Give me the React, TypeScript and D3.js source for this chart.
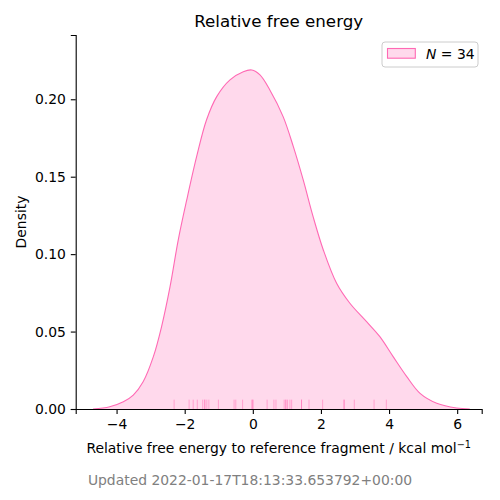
import { useEffect, useRef } from "react";
import * as d3 from "d3";

// relative free energies (kcal/mol)
const energies = [
  -2.31, -1.87, -1.75, -1.63, -1.47, -1.41, -1.35, -1.29, -1.01, -0.55, -0.5,
  -0.3, -0.02, -0.02, 0.01, 0.42, 0.62, 0.68, 0.92, 0.97, 1.02, 1.09, 1.14,
  1.43, 1.43, 1.65, 2.05, 2.68, 2.68, 2.98, 3.56, 3.92, -1.41, 0.97,
];
// KDE outline
const curveX = [
  -4.69, -4.2, -3.8, -3.51, -3.22, -2.92, -2.68, -2.43, -2.19, -1.94, -1.65,
  -1.36, -1.06, -0.67, -0.28, -0.03, 0.21, 0.5, 0.89, 1.19, 1.48, 1.77, 2.07,
  2.46, 2.85, 3.34, 3.73, 4.12, 4.52, 4.91, 5.4, 5.98, 6.37,
];
const curveDensity = [
  0.0, 0.0015, 0.0047, 0.009, 0.0176, 0.0338, 0.0531, 0.079, 0.1091, 0.135,
  0.1629, 0.1866, 0.2017, 0.2125, 0.2178, 0.2189, 0.2157, 0.206, 0.1888,
  0.1694, 0.1479, 0.1242, 0.1027, 0.0812, 0.0683, 0.0564, 0.0467, 0.0338,
  0.0209, 0.0101, 0.0037, 0.0006, 0.0,
];
const xTicks = [-4, -2, 0, 2, 4, 6];
const yTicks = [0, 0.05, 0.1, 0.15, 0.2];
const titleText = "Relative free energy";
const updatedText = "Updated 2022-01-17T18:13:33.653792+00:00";

const PINK = "#ff69b4";
const FONT = "DejaVu Sans, sans-serif";

export default function App() {
  const ref = useRef<SVGSVGElement>(null);

  useEffect(() => {
    if (!ref.current) return;
    d3.select(ref.current).selectAll("*").remove();

    const width = 500;
    const height = 500;
    const marginLeft = 75.7;
    const marginRight = 18.3;
    const marginTop = 35;
    const marginBottom = 91;

    const svg = d3
      .select(ref.current)
      .attr("width", width)
      .attr("height", height)
      .attr("viewBox", [0, 0, width, height])
      .style("font-family", FONT);

    svg.append("rect").attr("width", width).attr("height", height).attr("fill", "white");

    const x = d3.scaleLinear().domain([-5.2, 6.72]).range([marginLeft, width - marginRight]);
    const y = d3.scaleLinear().domain([0, 0.2415]).range([height - marginBottom, marginTop]);

    const pts = curveX.map((v, i) => [v, curveDensity[i]] as [number, number]);
    const smooth = d3.curveCatmullRom.alpha(0.5);

    // filled area
    svg
      .append("path")
      .attr("fill", PINK)
      .attr("fill-opacity", 0.25)
      .attr(
        "d",
        d3
          .area<[number, number]>()
          .curve(smooth)
          .x((d) => x(d[0]))
          .y0(y(0))
          .y1((d) => y(d[1]))(pts)
      );

    // rug
    const rugH = (height - marginTop - marginBottom) * 0.025;
    svg
      .append("g")
      .selectAll("line")
      .data(energies)
      .join("line")
      .attr("x1", (d) => x(d))
      .attr("x2", (d) => x(d))
      .attr("y1", y(0))
      .attr("y2", y(0) - rugH)
      .attr("stroke", PINK)
      .attr("stroke-opacity", 0.5)
      .attr("stroke-width", 1);

    // outline
    svg
      .append("path")
      .attr("fill", "none")
      .attr("stroke", PINK)
      .attr("stroke-width", 1.1)
      .attr(
        "d",
        d3
          .line<[number, number]>()
          .curve(smooth)
          .x((d) => x(d[0]))
          .y((d) => y(d[1]))(pts)
      );

    // x axis
    svg
      .append("g")
      .attr("transform", `translate(0,${height - marginBottom})`)
      .call(
        d3
          .axisBottom(x)
          .tickValues(xTicks)
          .tickFormat((d) => String(d).replace("-", "\u2212"))
          .tickSizeOuter(0)
          .tickSize(4.9)
          .tickPadding(4.9)
      )
      .call((g) => g.selectAll("text").attr("font-size", 13.9).attr("fill", "black").attr("font-family", FONT))
      .call((g) => g.selectAll("line,path").attr("stroke", "black").attr("stroke-width", 1.1));

    // y axis
    svg
      .append("g")
      .attr("transform", `translate(${marginLeft},0)`)
      .call(
        d3
          .axisLeft(y)
          .tickValues(yTicks)
          .tickFormat(d3.format(".2f"))
          .tickSizeOuter(0)
          .tickSize(4.9)
          .tickPadding(4.9)
      )
      .call((g) => g.selectAll("text").attr("font-size", 13.9).attr("fill", "black").attr("font-family", FONT))
      .call((g) => g.selectAll("line,path").attr("stroke", "black").attr("stroke-width", 1.1));

    const cx = (marginLeft + width - marginRight) / 2;

    svg
      .append("text")
      .attr("x", cx)
      .attr("y", 27)
      .attr("text-anchor", "middle")
      .attr("font-size", 16.7)
      .text(titleText);

    const xl = svg
      .append("text")
      .attr("x", cx)
      .attr("y", 453)
      .attr("text-anchor", "middle")
      .attr("font-size", 13.9);
    xl.append("tspan").text("Relative free energy to reference fragment / kcal mol");
    xl.append("tspan").attr("dy", -5).attr("font-size", 9.7).text("\u22121");

    svg
      .append("text")
      .attr("transform", `translate(26,${(marginTop + height - marginBottom) / 2}) rotate(-90)`)
      .attr("text-anchor", "middle")
      .attr("font-size", 13.9)
      .text("Density");

    svg
      .append("text")
      .attr("x", 250)
      .attr("y", 485)
      .attr("text-anchor", "middle")
      .attr("font-size", 13.9)
      .attr("fill", "#808080")
      .text(updatedText);

    // legend
    const lg = svg.append("g").attr("transform", "translate(382,42)");
    lg.append("rect")
      .attr("width", 96)
      .attr("height", 25)
      .attr("rx", 3)
      .attr("fill", "white")
      .attr("fill-opacity", 0.8)
      .attr("stroke", "#cccccc");
    lg.append("rect")
      .attr("x", 5.5)
      .attr("y", 6.5)
      .attr("width", 27.8)
      .attr("height", 9.7)
      .attr("fill", PINK)
      .attr("fill-opacity", 0.25)
      .attr("stroke", PINK)
      .attr("stroke-width", 1.1);
    const lt = lg.append("text").attr("x", 44).attr("y", 17).attr("font-size", 13.9);
    lt.append("tspan").attr("font-style", "italic").text("N");
    lt.append("tspan").text(" = 34");
  }, []);

  return <svg ref={ref} style={{ position: "absolute", left: 0, top: 0 }} />;
}
